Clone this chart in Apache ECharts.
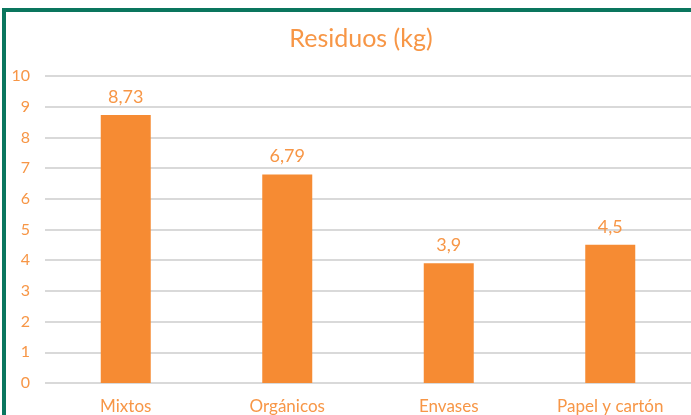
<!DOCTYPE html>
<html>
<head>
<meta charset="utf-8">
<script src="https://cdn.jsdelivr.net/npm/echarts@6/dist/echarts.min.js"></script>
<style>
  html, body { margin: 0; padding: 0; background: #fff; }
  #chart { width: 691px; height: 415px; }
</style>
</head>
<body>
<div id="chart"></div>
<script>
// datos del gráfico
const categorias = ['Mixtos', 'Orgánicos', 'Envases', 'Papel y cartón'];
const valores = [8.73, 6.79, 3.9, 4.5];

const naranja = '#F68B33';
const textoNaranja = '#F79646';

const chart = echarts.init(document.getElementById('chart'));

const option = {
    animation: false,
    textStyle: { fontFamily: 'Lato' },
    title: {
        text: 'Residuos (kg)',
        left: 356,
        top: 21,
        textAlign: 'center',
        textStyle: {
            color: textoNaranja,
            fontSize: 25,
            fontWeight: 'normal',
            fontFamily: 'Lato'
        }
    },
    // marco verde (solo arriba e izquierda se ven)
    graphic: [
        { type: 'rect', shape: { x: 2, y: 8, width: 700, height: 4 }, style: { fill: '#0A765E' } },
        { type: 'rect', shape: { x: 2, y: 8, width: 4, height: 420 }, style: { fill: '#0A765E' } }
    ],
    grid: {
        left: 45,
        right: -2,
        top: 76,
        bottom: 31,
        containLabel: false
    },
    xAxis: {
        type: 'category',
        data: categorias,
        axisLine: { show: false },
        axisTick: { show: false },
        axisLabel: {
            color: textoNaranja,
            fontSize: 17,
            margin: 15
        }
    },
    yAxis: {
        type: 'value',
        min: 0,
        max: 10,
        interval: 1,
        axisLine: { show: false },
        axisTick: { show: false },
        axisLabel: {
            color: textoNaranja,
            fontSize: 16,
            margin: 15
        },
        splitLine: {
            lineStyle: { color: '#D9D9D9', width: 2 }
        }
    },
    series: [
        {
            type: 'bar',
            data: valores,
            barWidth: 50,
            itemStyle: { color: naranja },
            label: {
                show: true,
                position: 'top',
                distance: 9,
                color: textoNaranja,
                fontSize: 18,
                formatter: (p) => String(p.value).replace('.', ',')
            }
        }
    ]
};

chart.setOption(option);
</script>
</body>
</html>
